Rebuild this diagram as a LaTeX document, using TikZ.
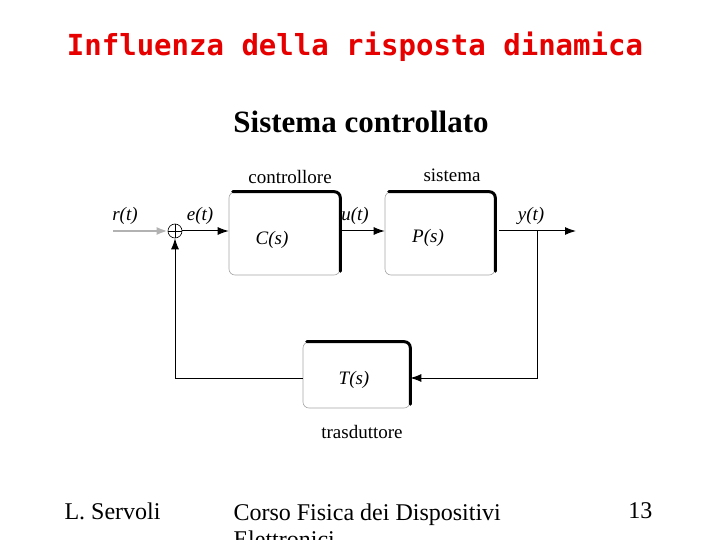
\documentclass[tikz,border=0pt]{standalone}
\usepackage{fontspec}
\setmainfont{Liberation Serif}
\newfontfamily\titlefont{DejaVu Sans Mono}
\usetikzlibrary{arrows.meta}
\definecolor{titlered}{RGB}{230,0,0}
\tikzset{
  blk/.style={draw=gray!70, line width=0.6pt, rounded corners=6pt, fill=white, font=\fontsize{19}{20}\selectfont\itshape},
  sig/.style={font=\fontsize{19}{20}\selectfont\itshape},
  captext/.style={font=\fontsize{19}{20}\selectfont},
  wire/.style={line width=1pt, -{Latex[length=11pt,width=8pt]}},
  thickedge/.style={line width=3pt, rounded corners=6pt, line cap=round},
  foot/.style={font=\fontsize{24}{27}\selectfont}
}
\begin{document}
\begin{tikzpicture}[x=1pt,y=-1pt]
\useasboundingbox (0,0) rectangle (720,540);
\node[text=titlered, font=\fontsize{29}{32}\selectfont\titlefont\bfseries] (title) at (355,47) {Influenza della risposta dinamica};
\node[font=\fontsize{31}{34}\selectfont\bfseries] (sub) at (361,122) {Sistema controllato};

% blocks
\node[blk, minimum width=111pt, minimum height=83pt] (C) at (284.5,233.5) {};
\node[sig] (Cl) at (272,240) {C(s)};
\node[blk, minimum width=110pt, minimum height=83pt] (P) at (440,233.5) {};
\node[sig] (Pl) at (428,238) {P(s)};
\node[blk, minimum width=107pt, minimum height=66pt] (T) at (356.5,375) {};
\node[sig] (Tl) at (354,380) {T(s)};
\draw[thickedge] ([xshift=4pt]C.north west) -- (C.north east) -- ([yshift=4pt]C.south east);
\draw[thickedge] ([xshift=4pt]P.north west) -- (P.north east) -- ([yshift=4pt]P.south east);
\draw[thickedge] ([xshift=4pt]T.north west) -- (T.north east) -- ([yshift=4pt]T.south east);

% captions
\node[captext] (cc) at (290,177) {controllore};
\node[captext] (cs) at (452,175) {sistema};
\node[captext] (ct) at (362,432) {trasduttore};

% summing junction
\node[draw, circle, minimum size=14pt, inner sep=0pt, line width=0.6pt] (S) at (175,231) {};
\draw[line width=0.6pt] (S.north) -- (S.south) (S.west) -- (S.east);

% signals
\coordinate (in) at (113,231);
\coordinate (out) at (576,231);
\coordinate (br) at (537,231);
\coordinate (brd) at (537,378);
\coordinate (fbl) at (175,378);
\draw[draw=gray!60, line width=2.2pt, -{Latex[length=11pt,width=8pt]}] (in) -- (S.west);
\draw[wire] (S.east) -- (C.west |- S.east);
\draw[wire] (C.east |- S.east) -- (P.west |- S.east);
\draw[wire] ([xshift=4pt]P.east |- S.east) -- (out);
\draw[wire] (br) -- (brd) -- (T.east |- brd);
\draw[wire] (T.west |- brd) -- (fbl) -- (S.south);

\node[sig] (lr) at (125,216) {r(t)};
\node[sig] (le) at (200,216) {e(t)};
\node[sig] (lu) at (355,216) {u(t)};
\node[sig] (ly) at (531,216) {y(t)};

% footer
\node[foot, anchor=west] (f1) at (61,511) {L. Servoli};
\node[foot, anchor=north west, align=left] (f2) at (230,500) {Corso Fisica dei Dispositivi\\Elettronici};
\node[foot, anchor=east] (f3) at (656,511) {13};
\end{tikzpicture}
\end{document}
